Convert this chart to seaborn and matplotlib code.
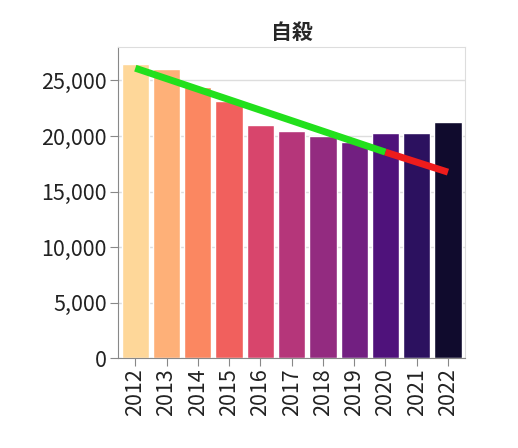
import pandas as pd
import numpy as np
import matplotlib.pyplot as plt
import seaborn as sns

# データ
anos = ['2012', '2013', '2014', '2015', '2016', '2017', '2018', '2019', '2020', '2021', '2022']
suicidios = [26433, 26063, 24417, 23152, 21017, 20465, 20031, 19425, 20243, 20291, 21252]

# トレンド線 (読み取り値)
tendencia_anos = [0, 8]
tendencia_valores = [26100, 18550]
previsao_anos = [8, 10]
previsao_valores = [18550, 16750]

df = pd.DataFrame({'ano': anos, 'valor': suicidios})

sns.set_style("white")
plt.rcParams['font.family'] = ['Noto Sans CJK JP', 'DejaVu Sans']

fig, ax = plt.subplots(figsize=(5.18, 4.48), dpi=100)
fig.subplots_adjust(left=0.228, right=0.898, top=0.895, bottom=0.2)

sns.barplot(data=df, x='ano', y='valor', hue='ano', palette='magma_r',
            legend=False, width=0.87, saturation=1, ax=ax, zorder=2)

ax.plot(tendencia_anos, tendencia_valores, color='#22e01c', linewidth=5,
        solid_capstyle='butt', zorder=3)
ax.plot(previsao_anos, previsao_valores, color='#ee1c1c', linewidth=5,
        solid_capstyle='butt', zorder=3)

ax.set_xlim(-0.55, 10.55)
ax.set_ylim(0, 28000)
ax.set_yticks([0, 5000, 10000, 15000, 20000, 25000])
ax.set_yticklabels([f'{v:,}' for v in [0, 5000, 10000, 15000, 20000, 25000]])
ax.set_xlabel('')
ax.set_ylabel('')
ax.set_title('自殺', fontsize=15, fontweight='bold', pad=6)

ax.grid(axis='y', color='#dddddd', linewidth=1, zorder=0)
ax.tick_params(axis='x', labelrotation=90, labelsize=15.5, length=6, color='#888888',
               direction='out', bottom=True, pad=1, labelcolor='#222222')
ax.tick_params(axis='y', labelsize=15.5, length=6, color='#888888',
               direction='out', left=True, pad=2, labelcolor='#222222')

for lado in ['top', 'right']:
    ax.spines[lado].set_color('#dddddd')
for lado in ['left', 'bottom']:
    ax.spines[lado].set_color('#888888')

plt.savefig('out.png', dpi=100)
